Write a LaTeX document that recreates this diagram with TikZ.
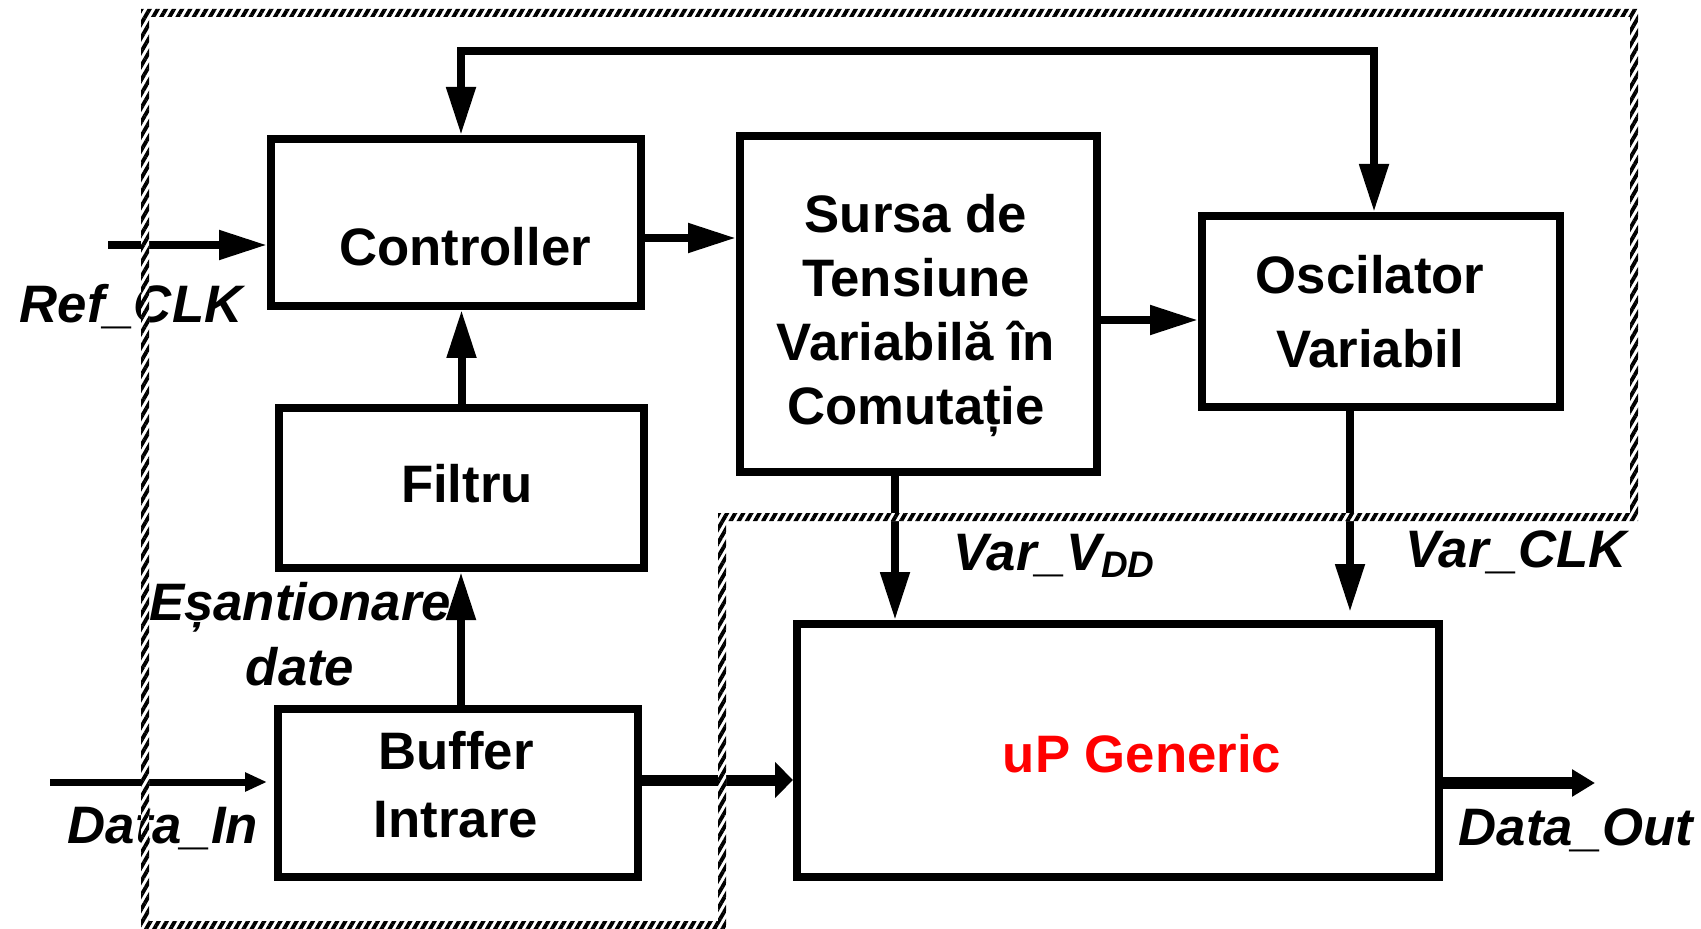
\documentclass[tikz,border=0pt]{standalone}
\usepackage{fontspec}
\setmainfont{Liberation Sans}
\usetikzlibrary{arrows.meta,patterns.meta}

\tikzset{
  bigtip/.tip={Triangle[length=4.8mm,width=2.8mm]},
  blk/.style={draw, line width=0.8mm, inner sep=0pt},
  txt/.style={inner sep=0pt, align=center, anchor=base, font=\fontsize{15}{18.3}\selectfont\bfseries},
  lbl/.style={inner sep=0pt, anchor=base west, font=\fontsize{15}{18.4}\selectfont\bfseries\itshape},
  sig/.style={line width=0.8mm, -bigtip},
}

\begin{document}
\begin{tikzpicture}[x=0.1mm, y=-0.1mm]
\useasboundingbox (0,0) rectangle (1701,929);

% blocks
\node[blk, minimum width=37mm,   minimum height=16.7mm] (ctrl)   at (456,222.5) {};
\node[blk, minimum width=35.7mm, minimum height=33.6mm] (sursa)  at (918.5,304) {};
\node[blk, minimum width=35.8mm, minimum height=19.1mm] (osc)    at (1381,311.5) {};
\node[blk, minimum width=36.5mm, minimum height=16mm]   (filtru) at (461.5,488) {};
\node[blk, minimum width=36mm,   minimum height=16.8mm] (buffer) at (458,793) {};
\node[blk, minimum width=64.2mm, minimum height=25.3mm] (up)     at (1118,750.5) {};

% block texts (multi-line ones sit on their last line)
\node[txt] (ctrltxt)   at (465,266)  {Controller};
\node[txt] (sursatxt)  at (916,425)  {Sursa de\\Tensiune\\Variabilă în\\Comutație};
\node[txt, font=\fontsize{15}{21.2}\selectfont\bfseries] (osctxt) at (1370,368) {Oscilator\\Variabil};
\node[txt] (filtrutxt) at (467,502)  {Filtru};
\node[txt, font=\fontsize{15}{19.3}\selectfont\bfseries] (buffertxt) at (456,837) {Buffer\\Intrare};
\node[txt, text=red] (uptxt) at (1142,772) {uP Generic};

% signal names
\node[lbl] (refclk)     at (19,323)   {Ref\_CLK};
\node[lbl] (datainlbl)  at (67,843)   {Data\_In};
\node[lbl, anchor=base, align=center] (esantlbl) at (300,685) {Eșantionare\\date};
\node[lbl] (vdd)        at (953,570)  {Var\_V\textsubscript{DD}};
\node[lbl] (varclk)     at (1405,567) {Var\_CLK};
\node[lbl] (dataoutlbl) at (1458,845) {Data\_Out};

% connections
\coordinate (refin) at (108,245);
\coordinate (looptop) at (900,51);
\coordinate (datain) at (50,782);
\coordinate (dataout) at (1595,783);

\draw[sig] (refin) -- (refin -| ctrl.west);
\draw[sig] ([yshift=-1.55mm]ctrl.east) -- ([yshift=-1.55mm]ctrl.east -| sursa.west);
\draw[sig] ([yshift=-1.6mm]sursa.east) -- ([yshift=-1.6mm]sursa.east -| osc.west);
\draw[sig, bigtip-bigtip] ([xshift=0.5mm]ctrl.north) |- (looptop) -| ([xshift=-0.7mm]osc.north);
\draw[sig] (filtru.north) -- (filtru.north |- ctrl.south);
\draw[sig] ([xshift=0.3mm]buffer.north) -- ([xshift=0.3mm]buffer.north |- filtru.south);
\draw[sig] ([xshift=-2.35mm]sursa.south) -- ([xshift=-2.35mm]sursa.south |- up.north);
\draw[sig, shorten >=0.8mm] ([xshift=-3.1mm]osc.south) -- ([xshift=-3.1mm]osc.south |- up.north);

\draw[line width=0.7mm, -{Triangle[length=2.2mm,width=1.8mm]}, shorten >=0.7mm]
  (datain) -- (datain -| buffer.west);
\draw[line width=1.1mm, -{Triangle[length=1.8mm,width=3.5mm]}]
  ([yshift=1.3mm]buffer.east) -- ([yshift=1.3mm]buffer.east -| up.west);
\draw[line width=1.2mm, -{Triangle[length=2.3mm,width=2.6mm]}]
  ([yshift=-3.25mm]up.east) -- ([yshift=-3.25mm]up.east -| dataout);

% hatched outline of the chip
\path[preaction={fill=white, even odd rule}, even odd rule,
      pattern={Lines[angle=60, distance=2pt, line width=1.1pt]}]
  (141,9) -- (1638,9) -- (1638,521) -- (726,521) -- (726,929) -- (141,929) -- cycle
  (149,17) -- (1630,17) -- (1630,513) -- (718,513) -- (718,921) -- (149,921) -- cycle;
\end{tikzpicture}
\end{document}
